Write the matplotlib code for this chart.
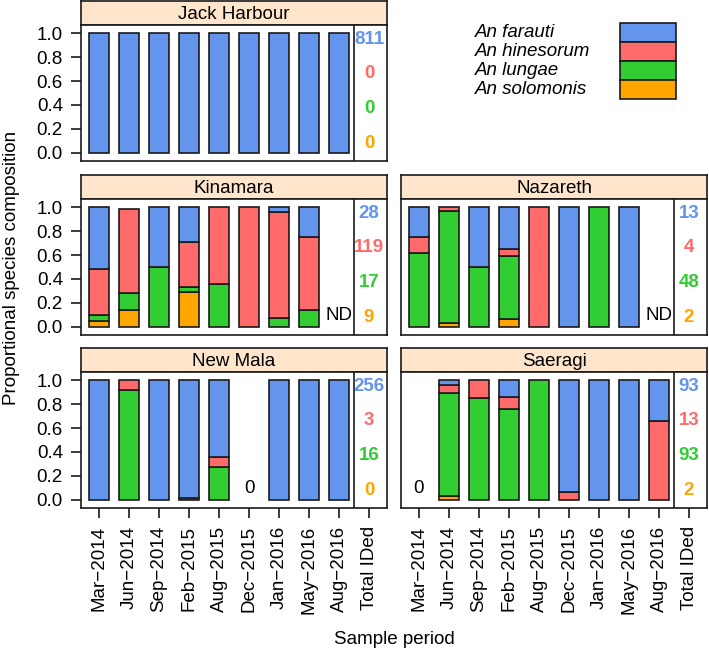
import numpy as np
import matplotlib
matplotlib.use("Agg")
import matplotlib.pyplot as plt
from matplotlib.patches import Rectangle

plt.rcParams['font.family'] = ['Liberation Sans', 'DejaVu Sans']

#=============================================
# Datos: proporciones por periodo y especie
#=============================================
periods = ["Mar\u22122014", "Jun\u22122014", "Sep\u22122014", "Feb\u22122015", "Aug\u22122015",
           "Dec\u22122015", "Jan\u22122016", "May\u22122016", "Aug\u22122016"]
species = ["An farauti", "An hinesorum", "An lungae", "An solomonis"]
colors = ["#6495ED", "#FF6A6A", "#32CD32", "#FFA500"]   # farauti, hinesorum, lungae, solomonis

N = np.nan
# Jack Harbour
jack_farauti = [1, 1, 1, 1, 1, 1, 1, 1, 1]
jack_hinesorum = [0, 0, 0, 0, 0, 0, 0, 0, 0]
jack_lungae = [0, 0, 0, 0, 0, 0, 0, 0, 0]
jack_solomonis = [0, 0, 0, 0, 0, 0, 0, 0, 0]
jack_total = [811, 0, 0, 0]

# Kinamara
kina_farauti = [0.52, 0.0, 0.50, 0.29, 0.0, 0.0, 0.04, 0.25, N]
kina_hinesorum = [0.38, 0.71, 0.0, 0.38, 0.64, 1.0, 0.89, 0.61, N]
kina_lungae = [0.05, 0.14, 0.50, 0.04, 0.36, 0.0, 0.07, 0.14, N]
kina_solomonis = [0.05, 0.14, 0.0, 0.29, 0.0, 0.0, 0.0, 0.0, N]
kina_total = [28, 119, 17, 9]

# Nazareth
naz_farauti = [0.25, 0.0, 0.50, 0.35, 0.0, 1.0, 0.0, 1.0, N]
naz_hinesorum = [0.13, 0.03, 0.0, 0.06, 1.0, 0.0, 0.0, 0.0, N]
naz_lungae = [0.62, 0.94, 0.50, 0.53, 0.0, 0.0, 1.0, 0.0, N]
naz_solomonis = [0.0, 0.03, 0.0, 0.06, 0.0, 0.0, 0.0, 0.0, N]
naz_total = [13, 4, 48, 2]

# New Mala
mala_farauti = [1.0, 0.0, 1.0, 0.99, 0.64, N, 1.0, 1.0, 1.0]
mala_hinesorum = [0.0, 0.08, 0.0, 0.0, 0.09, N, 0.0, 0.0, 0.0]
mala_lungae = [0.0, 0.92, 0.0, 0.01, 0.27, N, 0.0, 0.0, 0.0]
mala_solomonis = [0.0, 0.0, 0.0, 0.0, 0.0, N, 0.0, 0.0, 0.0]
mala_total = [256, 3, 16, 0]

# Saeragi
sae_farauti = [N, 0.04, 0.0, 0.14, 0.0, 0.94, 1.0, 1.0, 0.34]
sae_hinesorum = [N, 0.07, 0.15, 0.10, 0.0, 0.06, 0.0, 0.0, 0.66]
sae_lungae = [N, 0.86, 0.85, 0.76, 1.0, 0.0, 0.0, 0.0, 0.0]
sae_solomonis = [N, 0.03, 0.0, 0.0, 0.0, 0.0, 0.0, 0.0, 0.0]
sae_total = [93, 13, 93, 2]

# etiquetas para periodos sin datos: (posicion, texto)
jack_note = None
kina_note = (9, "ND")
naz_note = (9, "ND")
mala_note = (6, "0")
sae_note = (1, "0")

#=============================================
# Figura
#=============================================
W, H = 709, 659
fig = plt.figure(figsize=(W / 100, H / 100), dpi=100)
EDGE = "#1a1a1a"
FS = 13.5
LW = 1.2

def px_axes(x0, y0, x1, y1):
    return fig.add_axes([x0 / W, 1 - y1 / H, (x1 - x0) / W, (y1 - y0) / H])

def panel(x0, ytop, name, fr, hi, lu, so, total, note, left, bottom):
    # strip
    sax = px_axes(x0, ytop, x0 + 306, ytop + 24)
    sax.set_facecolor("#FFE5CC")
    sax.set_xticks([]); sax.set_yticks([])
    for s in sax.spines.values():
        s.set_color(EDGE); s.set_linewidth(LW)
    sax.text(0.5, 0.45, name, ha="center", va="center", fontsize=FS, transform=sax.transAxes)

    ax = px_axes(x0, ytop + 24, x0 + 306, ytop + 160)
    ax.set_xlim(0.4, 10.6)
    ax.set_ylim(-0.07, 1.07)
    for s in ax.spines.values():
        s.set_color(EDGE); s.set_linewidth(LW)

    stack = [so, lu, hi, fr]
    cols = [colors[3], colors[2], colors[1], colors[0]]
    for i in range(len(periods)):
        base = 0.0
        for vals, c in zip(stack, cols):
            v = vals[i]
            if np.isnan(v) or v <= 0:
                continue
            ax.bar(i + 1, v, bottom=base, width=0.67, color=c, edgecolor=EDGE, linewidth=LW)
            base += v
    if note is not None:
        ax.text(note[0], 0.09, note[1], ha="center", va="center", fontsize=FS)

    ax.axvline(9.5, color=EDGE, linewidth=LW)
    ypos = [0.95, 0.66, 0.37, 0.08]
    for t, yv, c in zip(total, ypos, colors):
        ax.text(10, yv, str(t), ha="center", va="center", fontsize=FS,
                fontweight="bold", color=c)

    if left:
        ax.set_yticks([0, 0.2, 0.4, 0.6, 0.8, 1.0])
        ax.set_yticklabels(["0.0", "0.2", "0.4", "0.6", "0.8", "1.0"], fontsize=FS)
        ax.tick_params(axis="y", direction="out", length=7, width=LW, pad=6, color=EDGE)
    else:
        ax.set_yticks([])
    if bottom:
        ax.set_xticks(range(1, 11))
        ax.set_xticklabels(periods + ["Total IDed"], rotation=90, fontsize=FS)
        ax.tick_params(axis="x", direction="out", length=7, width=LW, pad=6, color=EDGE)
    else:
        ax.set_xticks([])
    return ax

panel(81, 1, "Jack Harbour", jack_farauti, jack_hinesorum, jack_lungae, jack_solomonis,
      jack_total, jack_note, True, False)
panel(81, 175, "Kinamara", kina_farauti, kina_hinesorum, kina_lungae, kina_solomonis,
      kina_total, kina_note, True, False)
panel(401, 175, "Nazareth", naz_farauti, naz_hinesorum, naz_lungae, naz_solomonis,
      naz_total, naz_note, False, False)
panel(81, 348, "New Mala", mala_farauti, mala_hinesorum, mala_lungae, mala_solomonis,
      mala_total, mala_note, True, True)
panel(401, 348, "Saeragi", sae_farauti, sae_hinesorum, sae_lungae, sae_solomonis,
      sae_total, sae_note, False, True)

# leyenda
for k, (sp, c) in enumerate(zip(species, colors)):
    yc = 32.5 + 19 * k
    fig.text(475 / W, 1 - yc / H, sp, ha="left", va="center", fontsize=FS, style="italic")
    fig.patches.append(Rectangle((620 / W, 1 - (yc + 9.5) / H), 56 / W, 19 / H,
                                 transform=fig.transFigure, facecolor=c,
                                 edgecolor=EDGE, linewidth=LW))

fig.text(12 / W, 1 - 268 / H, "Proportional species composition", rotation=90,
         ha="center", va="center", fontsize=FS)
fig.text(394 / W, 1 - 640 / H, "Sample period", ha="center", va="center", fontsize=FS)

fig.savefig("out.png", dpi=100)
